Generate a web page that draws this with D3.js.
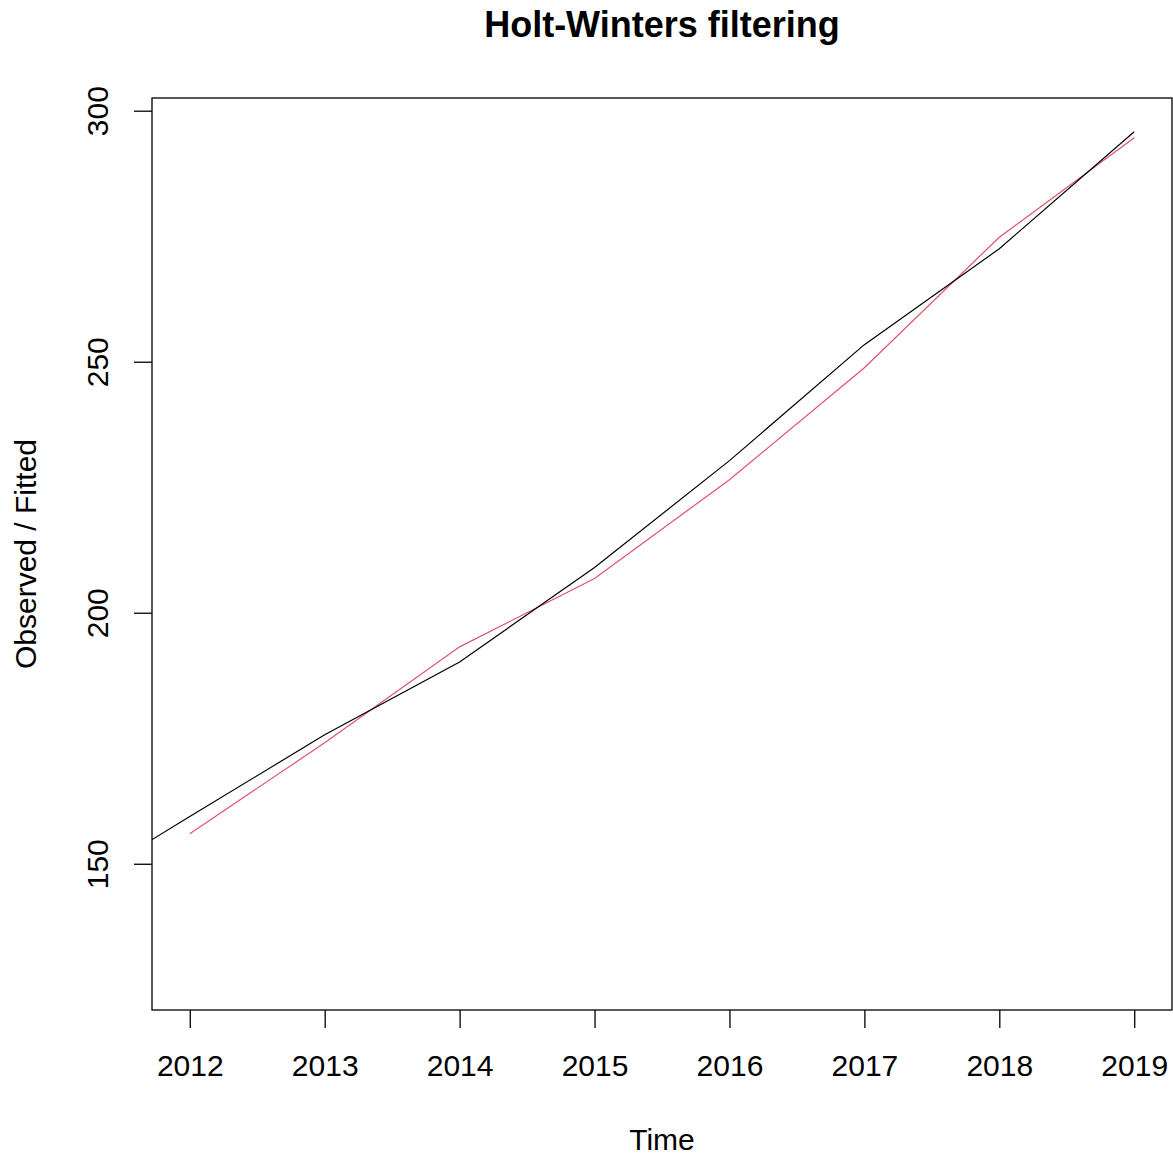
<!DOCTYPE html>
<html>
<head>
<meta charset="utf-8">
<script src="https://cdn.jsdelivr.net/npm/d3@7"></script>
<style>
  body { margin: 0; background: #fff; }
  svg { display: block; font-family: "Liberation Sans", Arial, sans-serif; }
</style>
</head>
<body>
<div id="chart"></div>
<script>
// Données (série annuelle)
const observedYears = [2010, 2011, 2012, 2013, 2014, 2015, 2016, 2017, 2018, 2019];
const observedValues = [127.6, 143.0, 159.4, 175.7, 190.2, 209.0, 230.3, 253.4, 272.5, 295.8];
const fittedYears = [2012, 2013, 2014, 2015, 2016, 2017, 2018, 2019];
const fittedValues = [156.0, 174.1, 193.2, 206.8, 226.5, 248.8, 274.8, 294.6];
const xTicks = [2012, 2013, 2014, 2015, 2016, 2017, 2018, 2019];
const yTicks = [150, 200, 250, 300];

const W = 1173, H = 1156;
const plot = { left: 152, right: 1172, top: 98, bottom: 1010 };

// Extension de 4% comme R
function extend(ext) {
    const r = ext[1] - ext[0];
    return [ext[0] - 0.04 * r, ext[1] + 0.04 * r];
}

const xDomain = extend(d3.extent(fittedYears));
const yDomain = extend(d3.extent(observedValues.concat(fittedValues)));

const x = d3.scaleLinear().domain(xDomain).range([plot.left, plot.right]);
const y = d3.scaleLinear().domain(yDomain).range([plot.bottom, plot.top]);

const svg = d3.select("#chart").append("svg")
    .attr("width", W)
    .attr("height", H);

svg.append("defs").append("clipPath")
    .attr("id", "clip")
    .append("rect")
    .attr("x", plot.left)
    .attr("y", plot.top)
    .attr("width", plot.right - plot.left)
    .attr("height", plot.bottom - plot.top);

const line = d3.line()
    .x(d => x(d[0]))
    .y(d => y(d[1]));

// Ajustement (rouge) puis observé (noir)
svg.append("path")
    .datum(fittedYears.map((yr, i) => [yr, fittedValues[i]]))
    .attr("clip-path", "url(#clip)")
    .attr("fill", "none")
    .attr("stroke", "#DF536B")
    .attr("stroke-width", 1.2)
    .attr("d", line);

svg.append("path")
    .datum(observedYears.map((yr, i) => [yr, observedValues[i]]))
    .attr("clip-path", "url(#clip)")
    .attr("fill", "none")
    .attr("stroke", "#000")
    .attr("stroke-width", 1.2)
    .attr("d", line);

// Cadre
svg.append("rect")
    .attr("x", plot.left)
    .attr("y", plot.top)
    .attr("width", plot.right - plot.left)
    .attr("height", plot.bottom - plot.top)
    .attr("fill", "none")
    .attr("stroke", "#000")
    .attr("stroke-width", 1.3);

// Axe X
const xAxis = svg.append("g")
    .attr("transform", `translate(0,${plot.bottom})`)
    .call(d3.axisBottom(x).tickValues(xTicks).tickFormat(d3.format("d")).tickSize(18));
xAxis.select(".domain").remove();
xAxis.selectAll("line").attr("stroke-width", 1.3);
xAxis.selectAll("text")
    .attr("font-size", "30px")
    .attr("fill", "#000")
    .attr("dy", null)
    .attr("y", 66);

// Axe Y
const yAxis = svg.append("g")
    .attr("transform", `translate(${plot.left},0)`)
    .call(d3.axisLeft(y).tickValues(yTicks).tickSize(18));
yAxis.select(".domain").remove();
yAxis.selectAll("line").attr("stroke-width", 1.3);
yAxis.selectAll("text")
    .attr("font-size", "30px")
    .attr("fill", "#000")
    .attr("x", null)
    .attr("dy", null)
    .attr("text-anchor", "middle")
    .attr("transform", "translate(-44,0) rotate(-90)");

// Titres
svg.append("text")
    .attr("x", (plot.left + plot.right) / 2)
    .attr("y", 37)
    .attr("text-anchor", "middle")
    .attr("font-size", "36px")
    .attr("font-weight", "bold")
    .text("Holt-Winters filtering");

svg.append("text")
    .attr("x", (plot.left + plot.right) / 2)
    .attr("y", 1150)
    .attr("text-anchor", "middle")
    .attr("font-size", "30px")
    .text("Time");

svg.append("text")
    .attr("transform", `translate(36,${(plot.top + plot.bottom) / 2}) rotate(-90)`)
    .attr("text-anchor", "middle")
    .attr("font-size", "30px")
    .text("Observed / Fitted");
</script>
</body>
</html>
